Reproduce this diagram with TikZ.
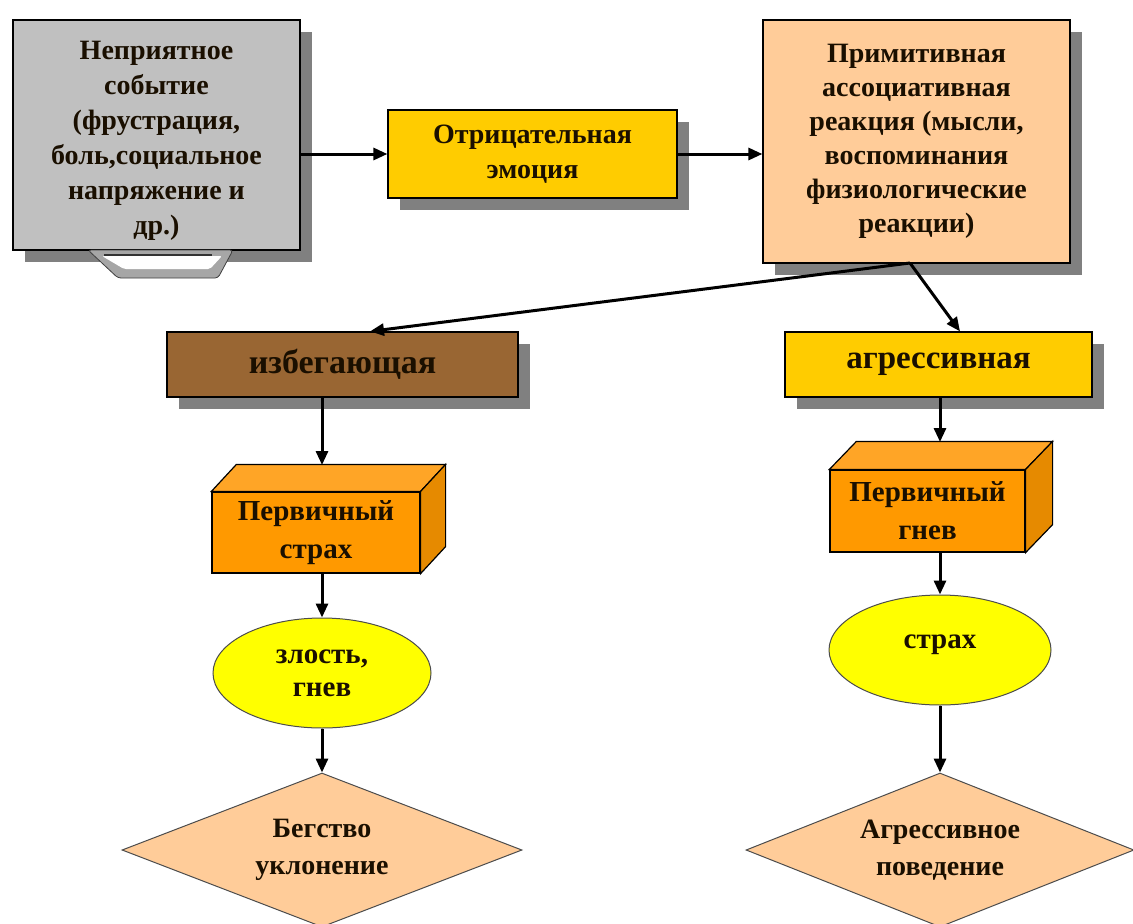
\documentclass[tikz,border=0pt]{standalone}
\usepackage{fontspec}
\setmainfont{Liberation Serif}
\usetikzlibrary{shapes.geometric,shadows,arrows.meta}
\definecolor{greybox}{HTML}{C0C0C0}
\definecolor{goldbox}{HTML}{FFCC00}
\definecolor{peachbox}{HTML}{FFCC99}
\definecolor{brownbox}{HTML}{996633}
\definecolor{orangebox}{HTML}{FF9900}
\definecolor{orangetop}{HTML}{FFA526}
\definecolor{orangeside}{HTML}{E68A00}
\definecolor{yellowbox}{HTML}{FFFF00}
\definecolor{shadowgrey}{HTML}{808080}
\definecolor{inktext}{HTML}{1A0F00}
\begin{document}
\begin{tikzpicture}[x=1pt, y=-1pt,
    box/.style={draw=black, line width=1.2pt, align=center, inner sep=0pt, text=inktext,
      font=\bfseries\fontsize{28}{35}\selectfont,
      drop shadow={shadow xshift=12pt, shadow yshift=-12pt, fill=shadowgrey, opacity=1}},
    cube/.style={draw=black, line width=1.2pt, fill=orangebox, align=center, inner sep=0pt, text=inktext,
      font=\bfseries\fontsize{29}{38}\selectfont},
    oval/.style={ellipse, draw=black!70, line width=1pt, fill=yellowbox, align=center, inner sep=0pt,
      text=inktext, font=\bfseries\fontsize{29}{33}\selectfont},
    romb/.style={diamond, aspect=2.6, draw=black!70, line width=1pt, fill=peachbox, align=center,
      inner sep=0pt, text=inktext, font=\bfseries\fontsize{28}{37}\selectfont},
    arr/.style={line width=3pt, -{Triangle[length=14pt,width=12pt]}}]
    \useasboundingbox[fill=white] (0,0) rectangle (1133,924);
    % top row
    \node[box, fill=greybox, minimum width=287pt, minimum height=230pt] (ev) at (156.5,135)
      {\\[-6pt]Неприятное\\событие\\(фрустрация,\\боль,социальное\\напряжение и\\др.)};
    \filldraw[fill=gray!70, draw=gray!50!black, line width=0.8pt, rounded corners=3pt]
      (88,250) -- (233,250) -- (218,278) -- (118,278) -- cycle;
    \fill[white, rounded corners=2pt] (102,256) -- (222,256) -- (210,269) -- (124,269) -- cycle;
    \draw[gray!40!black, line width=1.5pt] (104,255) -- (212,255);
    \node[box, fill=goldbox, minimum width=289pt, minimum height=88pt] (neg) at (532.5,154)
      {Отрицательная\\эмоция};
    \node[box, fill=peachbox, minimum width=307pt, minimum height=243pt,
      font=\bfseries\fontsize{28}{34}\selectfont] (reac) at (916.5,141.5)
      {Примитивная\\ассоциативная\\реакция (мысли,\\воспоминания\\физиологические\\реакции)};
    % two branches
    \node[box, fill=brownbox, minimum width=351pt, minimum height=65pt,
      font=\bfseries\fontsize{34}{38}\selectfont] (avoid) at (342.5,364.5) {избегающая};
    \node[box, fill=goldbox, minimum width=307pt, minimum height=65pt,
      font=\bfseries\fontsize{33}{38}\selectfont] (aggr) at (938.5,364.5) {агрессивная};
    \coordinate (split) at (910,263);
    % boxes in 3d
    \node[cube, minimum width=208pt, minimum height=81pt] (fear1) at (316,532.5) {Первичный\\страх};
    \filldraw[fill=orangetop, draw=black, line width=1.2pt] (fear1.north west) -- ++(25,-27)
      -- ([shift={(25,-27)}]fear1.north east) -- (fear1.north east) -- cycle;
    \filldraw[fill=orangeside, draw=black, line width=1.2pt] (fear1.north east) -- ++(25,-27)
      -- ([shift={(25,-27)}]fear1.south east) -- (fear1.south east) -- cycle;
    \coordinate (fear1top) at (322,465);
    \node[cube, minimum width=195pt, minimum height=82pt] (anger1) at (927.5,511) {Первичный\\гнев};
    \filldraw[fill=orangetop, draw=black, line width=1.2pt] (anger1.north west) -- ++(27,-28)
      -- ([shift={(27,-28)}]anger1.north east) -- (anger1.north east) -- cycle;
    \filldraw[fill=orangeside, draw=black, line width=1.2pt] (anger1.north east) -- ++(27,-28)
      -- ([shift={(27,-28)}]anger1.south east) -- (anger1.south east) -- cycle;
    \coordinate (anger1top) at (940,442);
    % ovals and rhombs
    \node[oval, minimum width=218pt, minimum height=110pt] (rage) at (322,673) {\raisebox{-6pt}{злость,}\\\raisebox{-6pt}{гнев}};
    \node[oval, minimum width=222pt, minimum height=110pt] (fear2) at (940,650) {\raisebox{17pt}{страх}};
    \node[romb, minimum width=400pt, minimum height=154pt] (flee) at (322,850) {Бегство\\уклонение};
    \node[romb, minimum width=388pt, minimum height=154pt] (attack) at (940,850) {Агрессивное\\поведение};
    % connectors
    \draw[arr] (ev.east |- neg.west) -- (neg.west);
    \draw[arr] (neg.east) -- (neg.east -| reac.west);
    \draw[arr] (split) -- ([xshift=27.5pt]avoid.north);
    \draw[arr] (split) -- ([xshift=21.5pt]aggr.north);
    \draw[arr] (avoid.south -| fear1top) -- (fear1top);
    \draw[arr] (aggr.south -| anger1top) -- (anger1top);
    \draw[arr] (fear1.south -| rage.north) -- (rage.north);
    \draw[arr] (anger1.south -| fear2.north) -- (fear2.north);
    \draw[arr] (rage.south) -- (flee.north);
    \draw[arr] (fear2.south) -- (attack.north);
\end{tikzpicture}
\end{document}
